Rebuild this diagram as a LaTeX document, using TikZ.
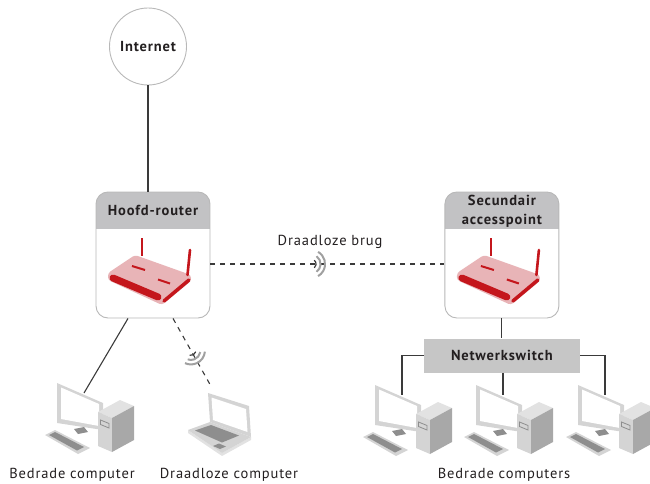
\documentclass[tikz,border=0pt]{standalone}
\usepackage{fontspec}
\setmainfont{PT Sans}[LetterSpace=6]
\usepackage{tikz}
\usetikzlibrary{arrows.meta, positioning, calc}

\definecolor{inkdark}{HTML}{231F20}
\definecolor{wiregray}{HTML}{3A3A3A}
\definecolor{boxgray}{HTML}{B8B8B8}
\definecolor{headgray}{HTML}{C2C2C4}
\definecolor{switchgray}{HTML}{C6C6C6}
\definecolor{routerred}{HTML}{C4161C}
\definecolor{routerpink}{HTML}{E8B4B7}
\definecolor{pclight}{HTML}{E2E2E2}
\definecolor{pcgray}{HTML}{D4D4D4}
\definecolor{pcside}{HTML}{A8A8A8}
\definecolor{pcdark}{HTML}{8E8E8E}
\definecolor{wavegray}{HTML}{A0A0A0}

\begin{document}
\begin{tikzpicture}[
    x=1pt, y=-1pt,
    font=\fontsize{14.5}{18}\selectfont,
    title/.style={font=\fontsize{14.5}{19}\selectfont\bfseries, text=inkdark, align=center, inner sep=0pt},
    caption/.style={text=inkdark, anchor=base, inner sep=0pt},
    device/.style={rectangle, draw=boxgray, line width=0.9pt, rounded corners=12pt,
                   fill=white, minimum width=114pt, minimum height=126pt,
                   path picture={\fill[headgray, sharp corners] (path picture bounding box.north west)
                     rectangle ([yshift=-37pt]path picture bounding box.north east);}},
    cloud/.style={circle, draw=boxgray, line width=0.9pt, minimum size=77pt, inner sep=0pt,
                  font=\fontsize{14.5}{18}\selectfont\bfseries, text=inkdark},
    switchbox/.style={rectangle, fill=switchgray, minimum width=156pt, minimum height=34pt,
                      font=\fontsize{14.5}{18}\selectfont\bfseries, text=inkdark},
    wire/.style={draw=wiregray, line width=1.1pt},
    wireless/.style={draw=wiregray, line width=1.1pt, dash pattern=on 5pt off 5pt},
    wavein/.style={draw=wiregray, line width=1.2pt},
    waveout/.style={draw=wavegray, line width=2pt},
    router/.pic={
        \draw[routerred, line width=2.6pt] (-11,-17) -- (-11,1);
        \fill[routerpink, rounded corners=3pt] (-45,18) -- (-18,0) -- (38,20) -- (38,26) -- (9,50) -- (-45,25) -- cycle;
        \draw[routerred, line width=7pt, line cap=round] (-40,23) -- (5,42);
        \draw[routerred, line width=3.5pt, line cap=round] (11,46) -- (36,25);
        \draw[routerred, line width=2.6pt, line cap=round] (37,-5) -- (34.5,20);
        \draw[routerred, line width=2pt] (-21,11) -- (-8,15);
        \draw[routerred, line width=2pt] (5,24.5) -- (17,28.5);
    },
    desktop/.pic={
        % monitor
        \fill[pcgray] (0,0) -- (46,20) -- (46,47) -- (0,40) -- cycle;
        \fill[white] (4,4.5) -- (42,21) -- (42,43) -- (4,36) -- cycle;
        \fill[pcdark] (17,46) -- (27,44) -- (31,49) -- (21,51) -- cycle;
        % keyboard
        \fill[pcgray] (-12,52) -- (-2,47) -- (33,65) -- (21,71) -- cycle;
        \fill[pcdark] (-8,52) -- (-2,49) -- (27,64) -- (20,67.5) -- cycle;
        % tower
        \fill[pclight] (41,29) -- (63,17) -- (77,23) -- (55,35) -- cycle;
        \fill[pcgray] (41,29) -- (55,35) -- (55,69) -- (41,63) -- cycle;
        \fill[pcside] (55,35) -- (77,23) -- (77,57) -- (55,69) -- cycle;
        \draw[pcdark, line width=0.8pt] (43.5,37) -- (52,40.5) -- (52,45) -- (43.5,41.5) -- cycle;
        \coordinate (-top) at (27,10);
    },
    notebook/.pic={
        % lid
        \fill[pcgray] (0,0) -- (41,13) -- (43,44) -- (2,29) -- cycle;
        \fill[white] (3.5,4.5) -- (38,16) -- (39.5,39) -- (5,27) -- cycle;
        % base
        \fill[pclight] (-20,37) -- (14,60) -- (43,44) -- (43,47) -- (14,63) -- (-20,40) -- cycle;
        \fill[pcgray] (-20,37) -- (2,29) -- (43,44) -- (14,60) -- cycle;
        \fill[pcdark] (-13,37.5) -- (3,32) -- (31,42.5) -- (14,49.5) -- cycle;
        \fill[pcdark] (5,53) -- (11,50.5) -- (18,53.5) -- (12,56) -- cycle;
        \coordinate (-top) at (4,-5);
    },
]
\useasboundingbox (0,0) rectangle (650,484);

% Devices
\node[device] (mainrouter) at (153,255) {};
\node[device, right=234pt of mainrouter] (ap) {};
\node[cloud] (internet) at (148,46.5) {Internet};
\node[switchbox, below=20pt of ap] (switch) {Netwerkswitch};

% Box headers
\node[title] (mainrouterhead) at ([yshift=-19pt]mainrouter.north) {Hoofd-router};
\node[title] (aphead) at ([yshift=-20pt]ap.north) {Secundair\\accesspoint};

\pic at (mainrouter.center) {router};
\pic at (ap.center) {router};

% Computers
\pic (pc1) at (57,383) {desktop};
\pic (laptop) at (208,393) {notebook};
\pic (pc2) at (375,385) {desktop};
\pic (pc3) at (476,385) {desktop};
\pic (pc4) at (578,385) {desktop};

% Wired links
\draw[wire] (internet) -- (internet |- mainrouter.north);
\draw[wire] ([xshift=-25pt]mainrouter.south) -- (pc1-top);
\draw[wire] (ap.south) -- (ap.south |- switch.north);
\draw[wire] (switch.west) -| (pc2-top);
\draw[wire] (pc3-top |- switch.south) -- (pc3-top);
\draw[wire] (switch.east) -| (pc4-top);

% Wireless links
\draw[wireless] ([yshift=-9pt]mainrouter.east) -- coordinate[pos=0.43] (bridge) ([yshift=-9pt]ap.west);
\draw[wireless] ([xshift=20pt]mainrouter.south) -- coordinate[pos=0.46] (laptopwave) (laptop-top);

\draw[wavein] (bridge) ++(-50:5) arc[start angle=-50, end angle=50, radius=5];
\draw[waveout] (bridge) ++(-55:9.5) arc[start angle=-55, end angle=55, radius=9.5];
\draw[waveout] (bridge) ++(-60:14) arc[start angle=-60, end angle=60, radius=14];
\node[text=inkdark, inner sep=0pt] (bridgelabel) at ($(bridge)+(19,-22)$) {Draadloze brug};

\draw[wavein] (laptopwave) ++(15:5) arc[start angle=15, end angle=105, radius=5];
\draw[waveout] (laptopwave) ++(10:9.5) arc[start angle=10, end angle=110, radius=9.5];
\draw[waveout] (laptopwave) ++(5:14) arc[start angle=5, end angle=115, radius=14];

% Captions
\node[caption] (pc1label) at (72,478.5) {Bedrade computer};
\node[caption] (laptoplabel) at (229,478.5) {Draadloze computer};
\node[caption] (pcslabel) at (504,478.5) {Bedrade computers};

\end{tikzpicture}
\end{document}
